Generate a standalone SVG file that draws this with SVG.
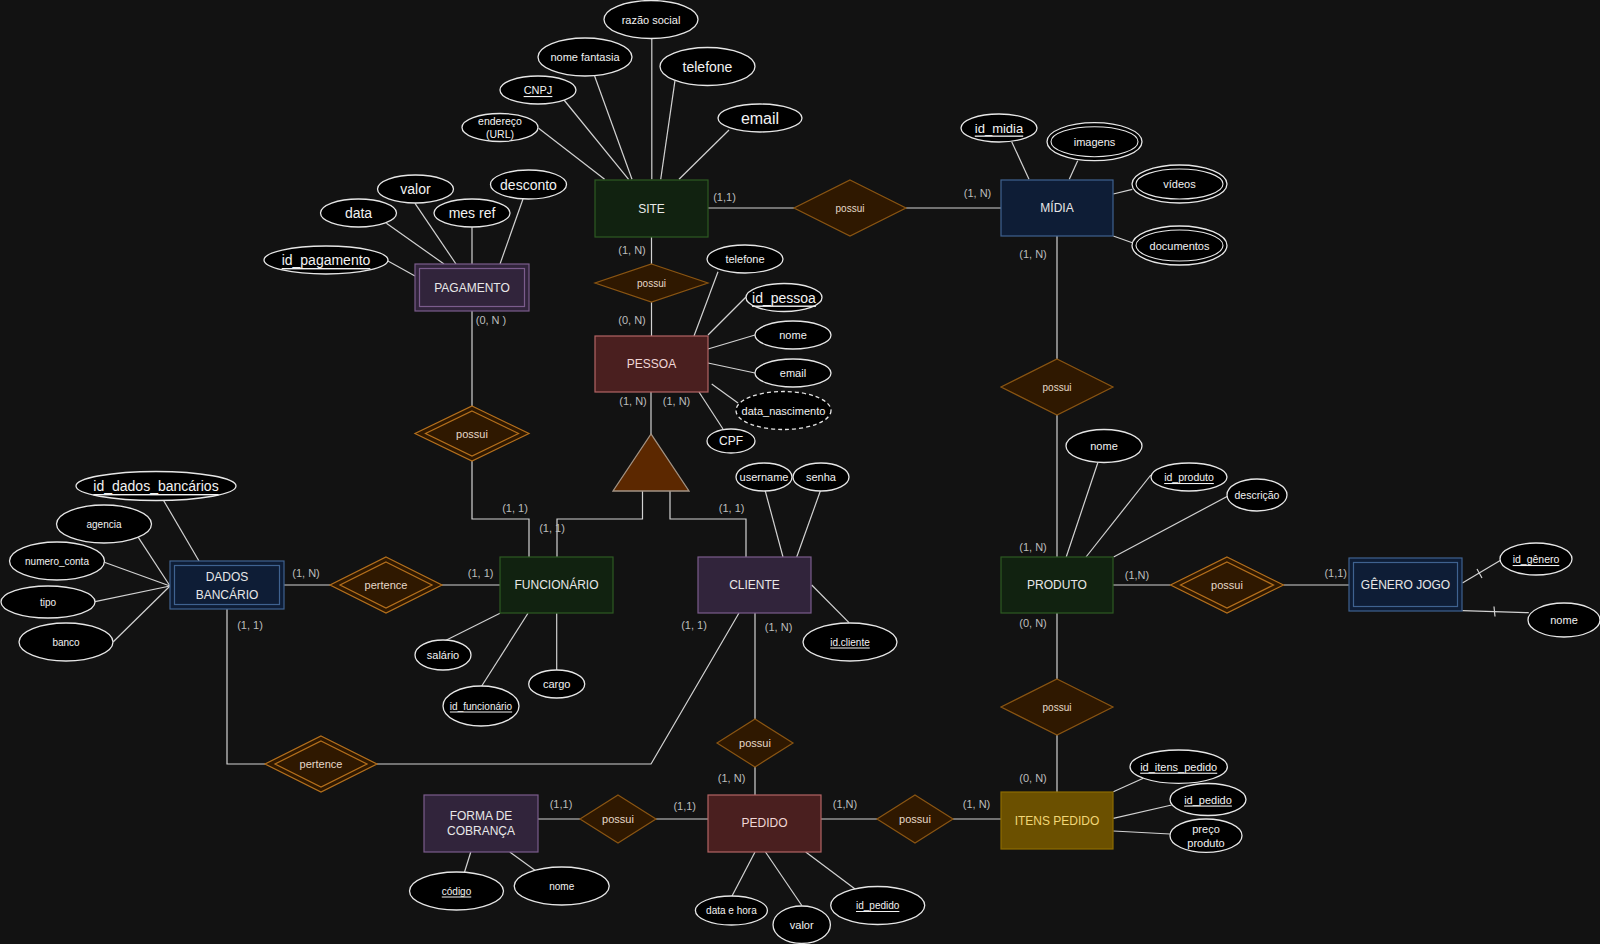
<svg xmlns="http://www.w3.org/2000/svg" width="1600" height="944" viewBox="0 0 1600 944">
<style>
text{font-family:"Liberation Sans",Arial,sans-serif;text-anchor:middle;dominant-baseline:central}
.ln{stroke:#d2d2d2;stroke-width:1.2;fill:none}
.at{fill:#000;stroke:#e6e6e6;stroke-width:1.3}
.at2{fill:none;stroke:#e6e6e6;stroke-width:1.1}
.dash{stroke-dasharray:4 3}
.at-t{fill:#f2f2f2;font-size:11px}
.u{text-decoration:underline}
.card{fill:#bdbdbd;font-size:11px}
.green{fill:#112210;stroke:#2e5a22;stroke-width:1.2}
.navy{fill:#0e1d36;stroke:#3f6290;stroke-width:1.2}
.maroon{fill:#4a1f1f;stroke:#b36464;stroke-width:1.2}
.purple{fill:#31243b;stroke:#7b5c8c;stroke-width:1.2}
.gold{fill:#6b5000;stroke:#8c6b00;stroke-width:1.2}
.inner{fill:none;stroke-width:1.2}
.en-t{fill:#e8e8e8;font-size:12px}
.rel{fill:#2f1800;stroke:#8a5512;stroke-width:1.2}
.rel2{fill:#2f1800;stroke:#b5701c;stroke-width:1.2}
.rel2i{fill:none;stroke:#b5701c;stroke-width:1.2}
.rel-t{fill:#e6d9c8;font-size:11px}
.s10{font-size:10px}
.s105{font-size:10.5px}
.s12{font-size:12px}
.s13{font-size:13px}
.s14{font-size:14px}
.s16{font-size:16px}
</style>
<rect width="1600" height="944" fill="#121212"/>

<g id="connectors">
  <!-- SITE attributes -->
  <line class="ln" x1="538.6" y1="128.3" x2="604.6" y2="179.3"/>
  <line class="ln" x1="564" y1="100" x2="628.6" y2="179.3"/>
  <line class="ln" x1="594.6" y1="76" x2="632" y2="179.3"/>
  <line class="ln" x1="651.8" y1="38.3" x2="651.8" y2="179.3"/>
  <line class="ln" x1="675" y1="80.3" x2="660.7" y2="179.3"/>
  <line class="ln" x1="729" y1="130" x2="679" y2="179.3"/>
  <!-- PAGAMENTO attributes -->
  <line class="ln" x1="386.4" y1="223.3" x2="444" y2="264"/>
  <line class="ln" x1="415" y1="203.3" x2="456" y2="264"/>
  <line class="ln" x1="472" y1="227.3" x2="472" y2="264"/>
  <line class="ln" x1="523" y1="199" x2="500" y2="264"/>
  <line class="ln" x1="387.5" y1="260.7" x2="415" y2="276"/>
  <!-- PESSOA attributes -->
  <line class="ln" x1="718" y1="271.7" x2="694" y2="336"/>
  <line class="ln" x1="746" y1="297" x2="708" y2="335"/>
  <line class="ln" x1="755" y1="335" x2="708" y2="349"/>
  <line class="ln" x1="755" y1="373" x2="708" y2="363"/>
  <line class="ln" x1="738" y1="403" x2="711.7" y2="384"/>
  <line class="ln" x1="723" y1="429" x2="699" y2="392"/>
  <!-- CLIENTE attributes -->
  <line class="ln" x1="765" y1="490" x2="783" y2="557"/>
  <line class="ln" x1="820.7" y1="490" x2="796.7" y2="557"/>
  <line class="ln" x1="811.7" y1="585" x2="849" y2="622.7"/>
  <!-- FUNCIONARIO attributes -->
  <line class="ln" x1="445" y1="640.7" x2="500" y2="613.3"/>
  <line class="ln" x1="481.7" y1="686" x2="528" y2="613.3"/>
  <line class="ln" x1="556.7" y1="613.3" x2="556.7" y2="670"/>
  <!-- DADOS BANCARIO attributes -->
  <line class="ln" x1="163.3" y1="500" x2="199" y2="561"/>
  <line class="ln" x1="138.3" y1="537.3" x2="170" y2="586"/>
  <line class="ln" x1="104.3" y1="562.3" x2="170" y2="586"/>
  <line class="ln" x1="95" y1="601.7" x2="170" y2="586"/>
  <line class="ln" x1="113.3" y1="641.7" x2="170" y2="586"/>
  <!-- MIDIA attributes -->
  <line class="ln" x1="1011.7" y1="141.7" x2="1029" y2="179.3"/>
  <line class="ln" x1="1077.7" y1="160.7" x2="1069.3" y2="179.3"/>
  <line class="ln" x1="1132.3" y1="189.3" x2="1113.3" y2="194"/>
  <line class="ln" x1="1132.3" y1="242.7" x2="1113.3" y2="236"/>
  <!-- PRODUTO attributes -->
  <line class="ln" x1="1097.8" y1="462.7" x2="1066.2" y2="557"/>
  <line class="ln" x1="1150.8" y1="475" x2="1086" y2="557"/>
  <line class="ln" x1="1228" y1="496" x2="1113.6" y2="557"/>
  <!-- GENERO attributes -->
  <line class="ln" x1="1462.4" y1="583" x2="1501" y2="560"/>
  <line class="ln" x1="1477" y1="569" x2="1482" y2="578"/>
  <line class="ln" x1="1462.4" y1="610.7" x2="1528.8" y2="612.7"/>
  <line class="ln" x1="1494" y1="606.5" x2="1495" y2="616.5"/>
  <!-- ITENS attributes -->
  <line class="ln" x1="1143.3" y1="778.3" x2="1113.3" y2="791.7"/>
  <line class="ln" x1="1171.7" y1="805" x2="1113.3" y2="818.3"/>
  <line class="ln" x1="1170" y1="834" x2="1113.3" y2="831"/>
  <!-- FORMA attributes -->
  <line class="ln" x1="464.3" y1="872.7" x2="470.8" y2="852"/>
  <line class="ln" x1="535.9" y1="871" x2="509.8" y2="852"/>
  <!-- PEDIDO attributes -->
  <line class="ln" x1="732" y1="896" x2="755" y2="852"/>
  <line class="ln" x1="801.8" y1="905.5" x2="765.5" y2="852"/>
  <line class="ln" x1="855.4" y1="889.3" x2="805.7" y2="852"/>

  <!-- relationships -->
  <line class="ln" x1="651.5" y1="237" x2="651.5" y2="264"/>
  <line class="ln" x1="651.5" y1="302" x2="651.5" y2="336"/>
  <line class="ln" x1="708" y1="208" x2="794" y2="208"/>
  <line class="ln" x1="906" y1="208" x2="1001" y2="208"/>
  <line class="ln" x1="1057" y1="236" x2="1057" y2="359"/>
  <line class="ln" x1="1057" y1="415" x2="1057" y2="557"/>
  <line class="ln" x1="1057" y1="613" x2="1057" y2="679"/>
  <line class="ln" x1="1057" y1="735" x2="1057" y2="792"/>
  <line class="ln" x1="651" y1="392" x2="651" y2="434"/>
  <polyline class="ln" points="642.5,491 642.5,519 557,519 557,557"/>
  <polyline class="ln" points="670,491 670,519 746,519 746,557"/>
  <line class="ln" x1="472" y1="311" x2="472" y2="406"/>
  <polyline class="ln" points="472,461 472,519 529,519 529,557"/>
  <line class="ln" x1="284" y1="585" x2="330" y2="585"/>
  <line class="ln" x1="442" y1="585" x2="500" y2="585"/>
  <polyline class="ln" points="227,609 227,764 265,764"/>
  <polyline class="ln" points="377,764 651,764 739,613"/>
  <line class="ln" x1="755" y1="613" x2="755" y2="719"/>
  <line class="ln" x1="755" y1="767" x2="755" y2="795"/>
  <line class="ln" x1="538" y1="819" x2="580" y2="819"/>
  <line class="ln" x1="656" y1="819" x2="708" y2="819"/>
  <line class="ln" x1="821" y1="819" x2="877" y2="819"/>
  <line class="ln" x1="953" y1="819" x2="1001" y2="819"/>
  <line class="ln" x1="1113" y1="585" x2="1170.5" y2="585"/>
  <line class="ln" x1="1283.5" y1="585" x2="1349" y2="585"/>
</g>

<!-- Entities -->
<g id="site"><rect class="green" x="595" y="180" width="113" height="57"/><text class="en-t" x="651.5" y="208.5">SITE</text></g>
<g id="midia"><rect class="navy" x="1001" y="180" width="112" height="56"/><text class="en-t" x="1057" y="208">MÍDIA</text></g>
<g id="pessoa"><rect class="maroon" x="595" y="336" width="113" height="56"/><text class="en-t" x="651.5" y="364" style="fill:#f0d6d6">PESSOA</text></g>
<g id="pagamento"><rect class="purple" x="415" y="264" width="114" height="47"/><rect class="inner" stroke="#7b5c8c" x="419.5" y="268.5" width="105" height="38"/><text class="en-t" x="472" y="288">PAGAMENTO</text></g>
<g id="dados-bancario"><rect class="navy" x="170" y="561" width="114" height="48"/><rect class="inner" stroke="#3f6290" x="174.5" y="565.5" width="105" height="39"/><text class="en-t" x="227" y="577">DADOS</text><text class="en-t" x="227" y="595">BANCÁRIO</text></g>
<g id="funcionario"><rect class="green" x="500" y="557" width="113" height="56"/><text class="en-t" x="556.5" y="585">FUNCIONÁRIO</text></g>
<g id="cliente"><rect class="purple" x="698" y="557" width="113" height="56"/><text class="en-t" x="754.5" y="585">CLIENTE</text></g>
<g id="produto"><rect class="green" x="1001" y="557" width="112" height="56"/><text class="en-t" x="1057" y="585">PRODUTO</text></g>
<g id="genero-jogo"><rect class="navy" x="1349" y="558" width="113" height="53"/><rect class="inner" stroke="#3f6290" x="1353.5" y="562.5" width="104" height="44"/><text class="en-t" x="1405.5" y="585">GÊNERO JOGO</text></g>
<g id="forma-cobranca"><rect class="purple" x="424" y="795" width="114" height="57"/><text class="en-t" x="481" y="816">FORMA DE</text><text class="en-t" x="481" y="831">COBRANÇA</text></g>
<g id="pedido"><rect class="maroon" x="708" y="795" width="113" height="57"/><text class="en-t" x="764.5" y="823" style="fill:#f0d6d6">PEDIDO</text></g>
<g id="itens-pedido"><rect class="gold" x="1001" y="792" width="112" height="57"/><text class="en-t" x="1057" y="820.5" style="fill:#f2d776">ITENS PEDIDO</text></g>

<!-- Specialization triangle -->
<g id="especializacao"><polygon points="651,434 613,491 689,491" fill="#5c2800" stroke="#a39384" stroke-width="1.3"/></g>

<!-- Relationships -->
<g id="rel-site-pessoa"><polygon class="rel" points="651.5,264 708,283 651.5,302 595,283"/><text class="rel-t s10" x="651.5" y="283">possui</text></g>
<g id="rel-site-midia"><polygon class="rel" points="850,180 906,208 850,236 794,208"/><text class="rel-t s10" x="850" y="208">possui</text></g>
<g id="rel-midia-produto"><polygon class="rel" points="1057,359 1113,387 1057,415 1001,387"/><text class="rel-t s10" x="1057" y="387">possui</text></g>
<g id="rel-pagamento"><polygon class="rel2" points="472,406 529,433.5 472,461 415,433.5"/><polygon class="rel2i" points="472,411 518.5,433.5 472,456 425.5,433.5"/><text class="rel-t" x="472" y="433.5">possui</text></g>
<g id="rel-pertence-1"><polygon class="rel2" points="386,557 442,585 386,613 330,585"/><polygon class="rel2i" points="386,562 432,585 386,608 340,585"/><text class="rel-t" x="386" y="585">pertence</text></g>
<g id="rel-pertence-2"><polygon class="rel2" points="321,736 377,764 321,792 265,764"/><polygon class="rel2i" points="321,741 367,764 321,787 275,764"/><text class="rel-t" x="321" y="764">pertence</text></g>
<g id="rel-produto-genero"><polygon class="rel2" points="1227,557 1283.5,585 1227,613 1170.5,585"/><polygon class="rel2i" points="1227,562 1273.5,585 1227,608 1180.5,585"/><text class="rel-t" x="1227" y="585">possui</text></g>
<g id="rel-produto-itens"><polygon class="rel" points="1057,679 1113,707 1057,735 1001,707"/><text class="rel-t s10" x="1057" y="707">possui</text></g>
<g id="rel-cliente-pedido"><polygon class="rel" points="755,719 793,743 755,767 717,743"/><text class="rel-t" x="755" y="743">possui</text></g>
<g id="rel-forma-pedido"><polygon class="rel" points="618,795 656,819 618,843 580,819"/><text class="rel-t" x="618" y="819">possui</text></g>
<g id="rel-pedido-itens"><polygon class="rel" points="915,795 953,819 915,843 877,819"/><text class="rel-t" x="915" y="819">possui</text></g>

<!-- Attributes -->
<g id="a-razao-social"><ellipse class="at" cx="651" cy="19.5" rx="47" ry="19"/><text class="at-t" x="651" y="19.5">razão social</text></g>
<g id="a-nome-fantasia"><ellipse class="at" cx="585" cy="57" rx="47" ry="19"/><text class="at-t" x="585" y="57">nome fantasia</text></g>
<g id="a-site-telefone"><ellipse class="at" cx="707.5" cy="66.5" rx="47.5" ry="19"/><text class="at-t s14" x="707.5" y="66.5">telefone</text></g>
<g id="a-cnpj"><ellipse class="at" cx="538" cy="90" rx="38" ry="14"/><text class="at-t u" x="538" y="90">CNPJ</text></g>
<g id="a-endereco"><ellipse class="at" cx="500" cy="127.5" rx="38" ry="14"/><text class="at-t s105" x="500" y="121">endereço</text><text class="at-t s105" x="500" y="134">(URL)</text></g>
<g id="a-site-email"><ellipse class="at" cx="760" cy="118" rx="42" ry="14"/><text class="at-t s16" x="760" y="118">email</text></g>

<g id="a-desconto"><ellipse class="at" cx="528.5" cy="184.5" rx="38" ry="14.5"/><text class="at-t s14" x="528.5" y="184.5">desconto</text></g>
<g id="a-pag-valor"><ellipse class="at" cx="415.5" cy="189" rx="38" ry="14"/><text class="at-t s14" x="415.5" y="189">valor</text></g>
<g id="a-mes-ref"><ellipse class="at" cx="472" cy="213" rx="38" ry="14"/><text class="at-t s14" x="472" y="213">mes ref</text></g>
<g id="a-data"><ellipse class="at" cx="358.5" cy="213" rx="38" ry="14"/><text class="at-t s14" x="358.5" y="213">data</text></g>
<g id="a-id-pagamento"><ellipse class="at" cx="326" cy="260" rx="62" ry="14"/><text class="at-t u s14" x="326" y="260">id_pagamento</text></g>

<g id="a-pessoa-telefone"><ellipse class="at" cx="745" cy="259" rx="38" ry="14"/><text class="at-t" x="745" y="259">telefone</text></g>
<g id="a-id-pessoa"><ellipse class="at" cx="784" cy="297.5" rx="38" ry="14"/><text class="at-t u s14" x="784" y="297.5">id_pessoa</text></g>
<g id="a-pessoa-nome"><ellipse class="at" cx="793" cy="335" rx="38" ry="14"/><text class="at-t" x="793" y="335">nome</text></g>
<g id="a-pessoa-email"><ellipse class="at" cx="793" cy="373" rx="38" ry="14"/><text class="at-t" x="793" y="373">email</text></g>
<g id="a-data-nascimento"><ellipse class="at dash" cx="783.5" cy="410.5" rx="47.5" ry="19"/><text class="at-t" x="783.5" y="410.5">data_nascimento</text></g>
<g id="a-cpf"><ellipse class="at" cx="731" cy="441" rx="24" ry="12"/><text class="at-t s12" x="731" y="441">CPF</text></g>

<g id="a-username"><ellipse class="at" cx="764" cy="477" rx="28" ry="14"/><text class="at-t" x="764" y="477">username</text></g>
<g id="a-senha"><ellipse class="at" cx="821" cy="477" rx="28" ry="14"/><text class="at-t" x="821" y="477">senha</text></g>
<g id="a-id-cliente"><ellipse class="at" cx="850" cy="642" rx="47" ry="19"/><text class="at-t u s10" x="850" y="642">id.cliente</text></g>

<g id="a-salario"><ellipse class="at" cx="443" cy="655" rx="28" ry="15"/><text class="at-t" x="443" y="655">salário</text></g>
<g id="a-id-funcionario"><ellipse class="at" cx="481" cy="706" rx="38" ry="20"/><text class="at-t u s10" x="481" y="706">id_funcionário</text></g>
<g id="a-cargo"><ellipse class="at" cx="556.7" cy="684" rx="28" ry="14"/><text class="at-t" x="556.7" y="684">cargo</text></g>

<g id="a-id-dados-bancarios"><ellipse class="at" cx="156" cy="486" rx="80" ry="14.5"/><text class="at-t u s14" x="156" y="486">id_dados_bancários</text></g>
<g id="a-agencia"><ellipse class="at" cx="104" cy="524" rx="47.5" ry="19"/><text class="at-t s10" x="104" y="524">agencia</text></g>
<g id="a-numero-conta"><ellipse class="at" cx="57" cy="561" rx="47.5" ry="19"/><text class="at-t s10" x="57" y="561">numero_conta</text></g>
<g id="a-tipo"><ellipse class="at" cx="48" cy="602" rx="47" ry="16"/><text class="at-t s10" x="48" y="602">tipo</text></g>
<g id="a-banco"><ellipse class="at" cx="66" cy="642" rx="47" ry="19"/><text class="at-t s10" x="66" y="642">banco</text></g>

<g id="a-id-midia"><ellipse class="at" cx="999" cy="128" rx="38" ry="14"/><text class="at-t u s13" x="999" y="128">id_midia</text></g>
<g id="a-imagens"><ellipse class="at" cx="1094.5" cy="141.7" rx="47.5" ry="19"/><ellipse class="at2" cx="1094.5" cy="141.7" rx="43.5" ry="15"/><text class="at-t" x="1094.5" y="141.7">imagens</text></g>
<g id="a-videos"><ellipse class="at" cx="1179.5" cy="184" rx="47.5" ry="19"/><ellipse class="at2" cx="1179.5" cy="184" rx="43.5" ry="15"/><text class="at-t" x="1179.5" y="184">vídeos</text></g>
<g id="a-documentos"><ellipse class="at" cx="1179.5" cy="245.5" rx="47.5" ry="19.5"/><ellipse class="at2" cx="1179.5" cy="245.5" rx="43.5" ry="15.5"/><text class="at-t" x="1179.5" y="245.5">documentos</text></g>

<g id="a-produto-nome"><ellipse class="at" cx="1104" cy="446" rx="38" ry="16.5"/><text class="at-t" x="1104" y="446">nome</text></g>
<g id="a-id-produto"><ellipse class="at" cx="1189" cy="477" rx="38" ry="14"/><text class="at-t u s105" x="1189" y="477">id_produto</text></g>
<g id="a-descricao"><ellipse class="at" cx="1257" cy="495" rx="30" ry="16"/><text class="at-t s105" x="1257" y="495">descrição</text></g>

<g id="a-id-genero"><ellipse class="at" cx="1536" cy="559" rx="36" ry="16"/><text class="at-t u s105" x="1536" y="559">id_gênero</text></g>
<g id="a-genero-nome"><ellipse class="at" cx="1564" cy="620" rx="36" ry="17"/><text class="at-t" x="1564" y="620">nome</text></g>

<g id="a-id-itens-pedido"><ellipse class="at" cx="1178.7" cy="766.7" rx="48.7" ry="16.7"/><text class="at-t u" x="1178.7" y="766.7">id_itens_pedido</text></g>
<g id="a-itens-id-pedido"><ellipse class="at" cx="1208" cy="799.5" rx="38" ry="16"/><text class="at-t u" x="1208" y="799.5">id_pedido</text></g>
<g id="a-preco-produto"><ellipse class="at" cx="1206" cy="835.7" rx="36" ry="16.7"/><text class="at-t" x="1206" y="829">preço</text><text class="at-t" x="1206" y="843">produto</text></g>

<g id="a-codigo"><ellipse class="at" cx="456.5" cy="891" rx="47" ry="19"/><text class="at-t u s10" x="456.5" y="891">código</text></g>
<g id="a-forma-nome"><ellipse class="at" cx="561.7" cy="886" rx="47.5" ry="19"/><text class="at-t s10" x="561.7" y="886">nome</text></g>

<g id="a-data-hora"><ellipse class="at" cx="731.4" cy="910.5" rx="36" ry="14.5"/><text class="at-t s10" x="731.4" y="910.5">data e hora</text></g>
<g id="a-pedido-valor"><ellipse class="at" cx="801.7" cy="924.7" rx="28.7" ry="18.7"/><text class="at-t" x="801.7" y="924.7">valor</text></g>
<g id="a-id-pedido"><ellipse class="at" cx="877.7" cy="905.5" rx="47" ry="19"/><text class="at-t u s10" x="877.7" y="905.5">id_pedido</text></g>

<!-- Cardinalities -->
<g id="cardinalidades">
<text class="card" x="724.5" y="197">(1,1)</text>
<text class="card" x="977.5" y="193">(1, N)</text>
<text class="card" x="632" y="250">(1, N)</text>
<text class="card" x="632" y="320">(0, N)</text>
<text class="card" x="491" y="320">(0, N )</text>
<text class="card" x="633" y="401">(1, N)</text>
<text class="card" x="676.5" y="401">(1, N)</text>
<text class="card" x="1033" y="254">(1, N)</text>
<text class="card" x="515" y="508">(1, 1)</text>
<text class="card" x="552" y="527.5">(1, 1)</text>
<text class="card" x="731.6" y="508">(1, 1)</text>
<text class="card" x="306" y="572.5">(1, N)</text>
<text class="card" x="480.6" y="572.5">(1, 1)</text>
<text class="card" x="250" y="624.5">(1, 1)</text>
<text class="card" x="694" y="624.5">(1, 1)</text>
<text class="card" x="778.6" y="626.5">(1, N)</text>
<text class="card" x="1033" y="547">(1, N)</text>
<text class="card" x="1033" y="622.5">(0, N)</text>
<text class="card" x="1137" y="574.5">(1,N)</text>
<text class="card" x="1335.7" y="572.5">(1,1)</text>
<text class="card" x="1033" y="777.5">(0, N)</text>
<text class="card" x="731.6" y="777.5">(1, N)</text>
<text class="card" x="561" y="804">(1,1)</text>
<text class="card" x="684.7" y="806">(1,1)</text>
<text class="card" x="845" y="804">(1,N)</text>
<text class="card" x="976.5" y="804">(1, N)</text>
</g>
</svg>
